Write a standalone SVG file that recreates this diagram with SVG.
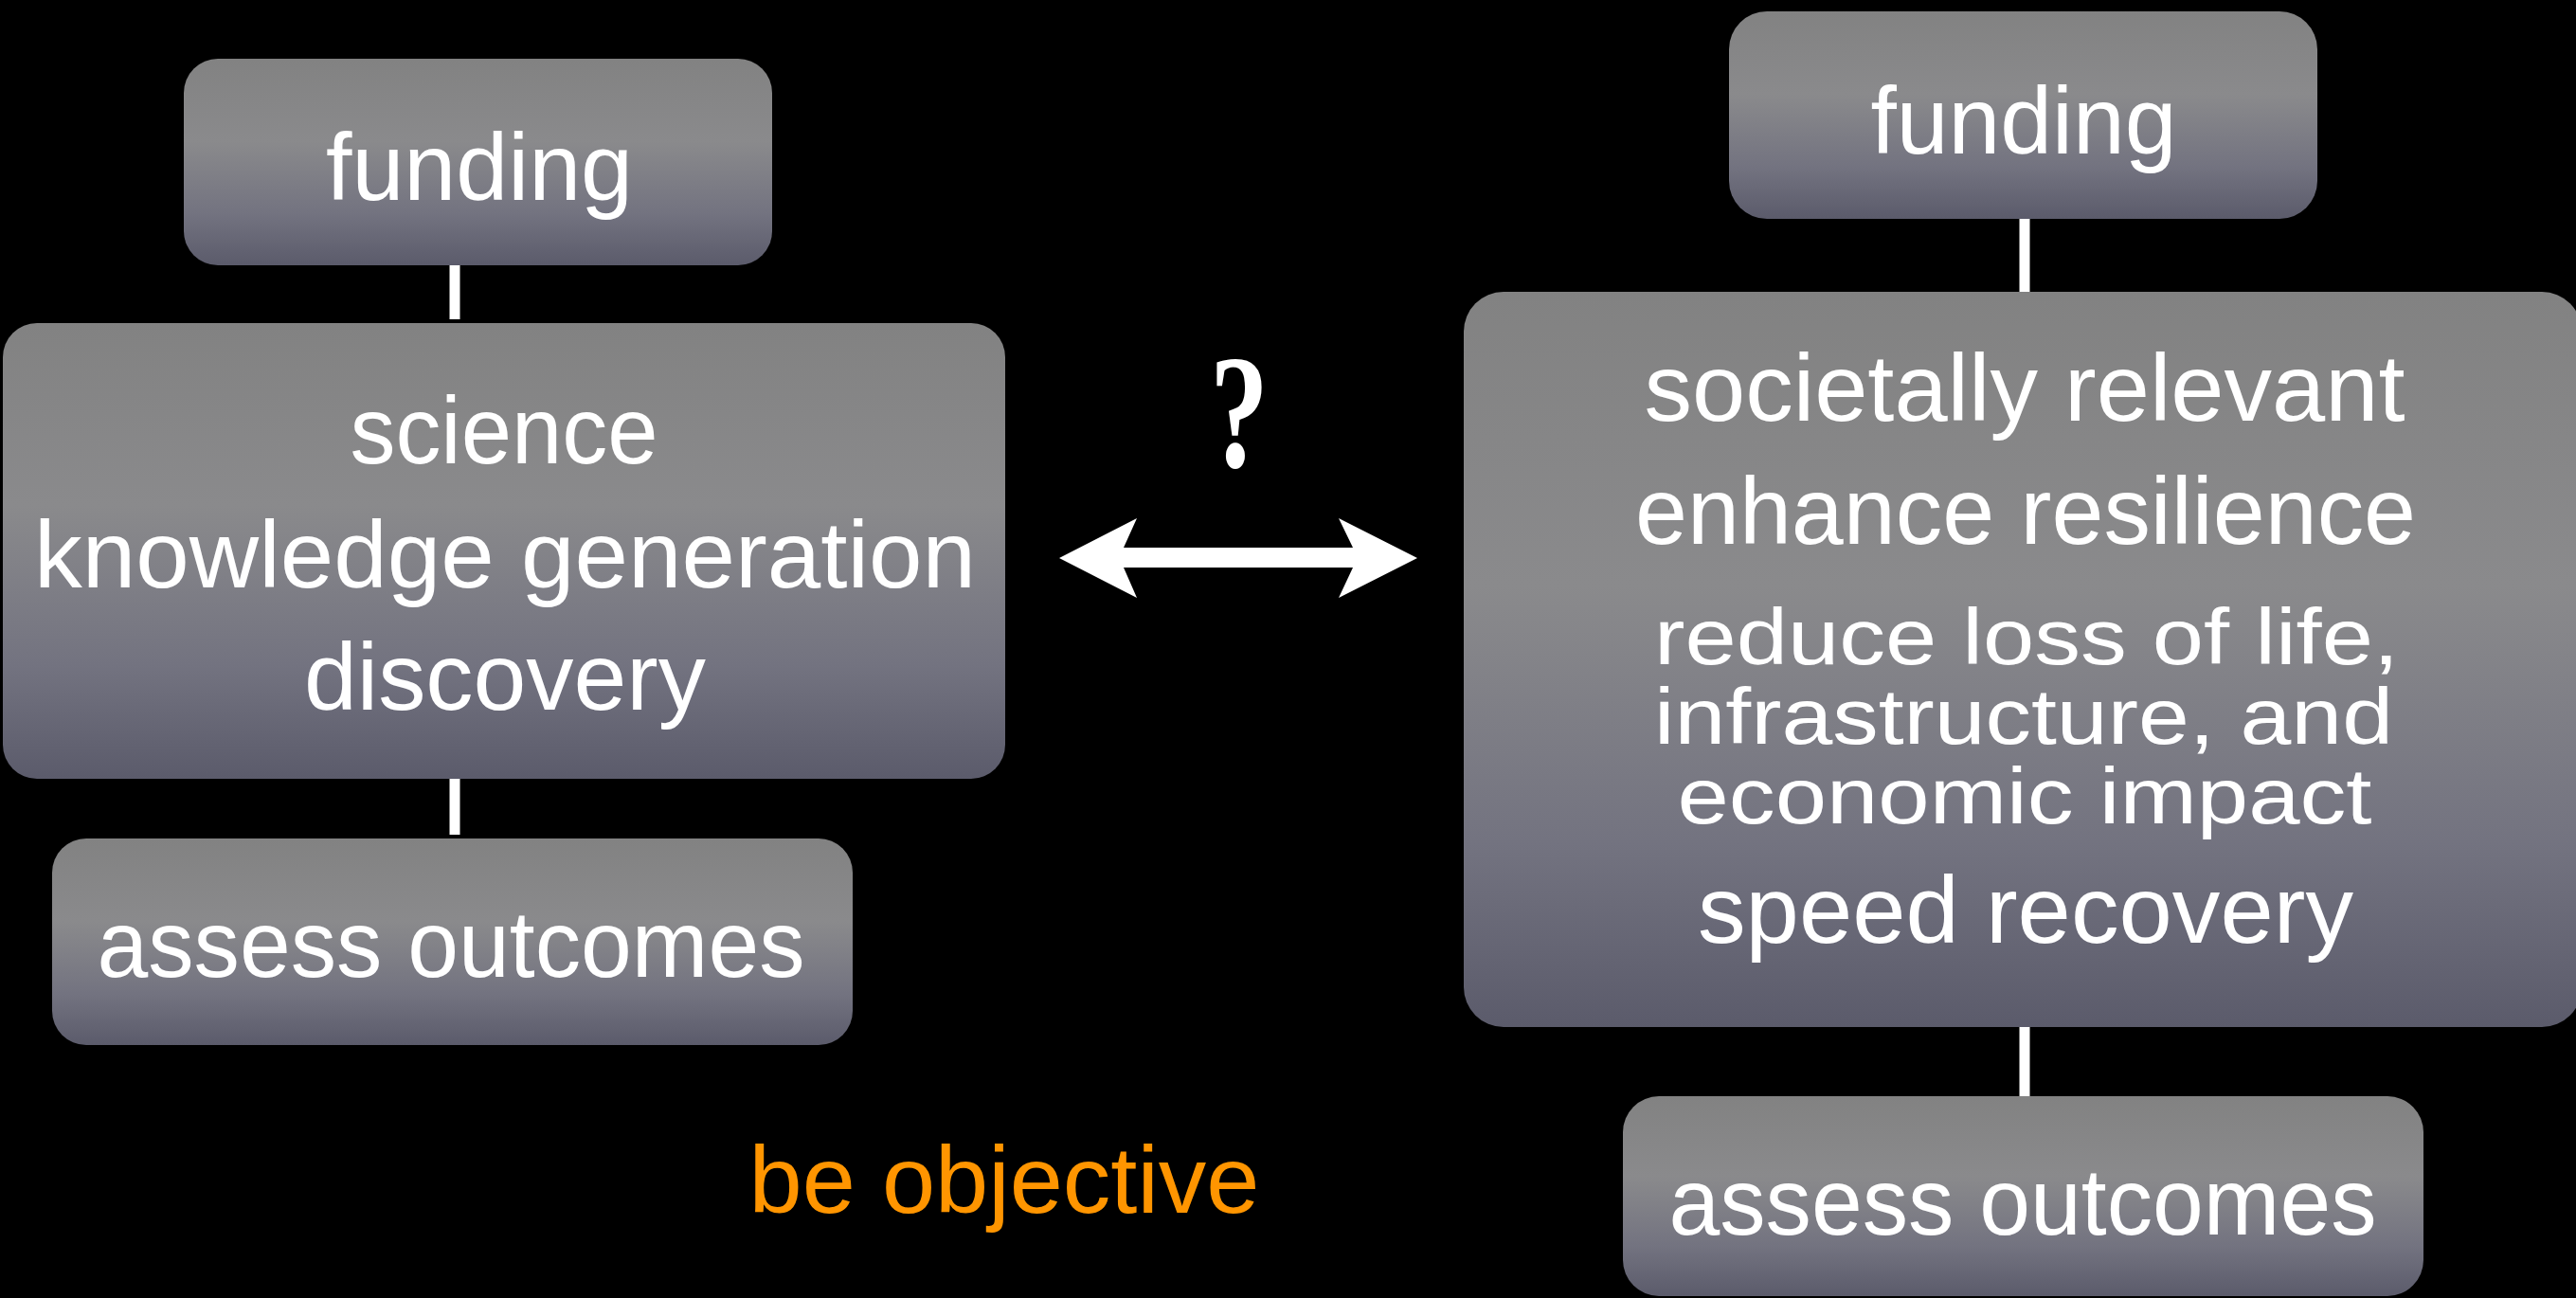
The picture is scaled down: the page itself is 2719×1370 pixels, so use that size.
<svg xmlns="http://www.w3.org/2000/svg" width="2719" height="1370" viewBox="0 0 2719 1370">
<defs>
<linearGradient id="boxg" x1="0" y1="0" x2="0" y2="1">
<stop offset="0" stop-color="#828282"/>
<stop offset="0.4" stop-color="#8a8a8c"/>
<stop offset="0.75" stop-color="#737380"/>
<stop offset="1" stop-color="#5b5b6b"/>
</linearGradient>
<style>
.box{fill:url(#boxg);}
.t{font-family:"Liberation Sans",Arial,sans-serif;fill:#ffffff;text-anchor:middle;}
.conn{stroke:#ffffff;stroke-width:11;fill:none;}
</style>
</defs>
<rect x="0" y="0" width="2719" height="1370" fill="#000000"/>

<g id="connectors">
<line class="conn" x1="480" y1="280" x2="480" y2="337"/>
<line class="conn" x1="480" y1="822" x2="480" y2="881"/>
<line class="conn" x1="2137" y1="231" x2="2137" y2="309"/>
<line class="conn" x1="2137" y1="1084" x2="2137" y2="1158"/>
<polygon id="double-arrow" fill="#ffffff" points="1118,589 1200,547 1186,578 1428,578 1413,547 1496,589 1413,631 1428,599 1186,599 1200,631"/>
</g>

<g id="left-funding">
<rect class="box" x="194" y="62" width="621" height="218" rx="36"/>
<text class="t" x="506" y="211" font-size="100" textLength="324" lengthAdjust="spacingAndGlyphs">funding</text>
</g>

<g id="left-science">
<rect class="box" x="3" y="341" width="1058" height="481" rx="36"/>
<text class="t" x="532" y="489" font-size="100" textLength="325" lengthAdjust="spacingAndGlyphs">science</text>
<text class="t" x="533" y="620" font-size="100" textLength="994" lengthAdjust="spacingAndGlyphs">knowledge generation</text>
<text class="t" x="533" y="749" font-size="100" textLength="424" lengthAdjust="spacingAndGlyphs">discovery</text>
</g>

<g id="left-assess">
<rect class="box" x="55" y="885" width="845" height="218" rx="36"/>
<text class="t" x="476" y="1031" font-size="100" textLength="747" lengthAdjust="spacingAndGlyphs">assess outcomes</text>
</g>

<g id="question">
<text class="t" font-size="172" font-weight="bold" transform="translate(1308,493) scale(0.72,1)" x="0" y="0" style="font-family:'Liberation Serif',serif">?</text>
</g>

<g id="be-objective">
<text x="1060" y="1280" font-size="100" textLength="539" lengthAdjust="spacingAndGlyphs" style="font-family:'Liberation Sans',Arial,sans-serif;fill:#ff9500;text-anchor:middle">be objective</text>
</g>

<g id="right-funding">
<rect class="box" x="1825" y="12" width="621" height="219" rx="40"/>
<text class="t" x="2136" y="162" font-size="100" textLength="323" lengthAdjust="spacingAndGlyphs">funding</text>
</g>

<g id="right-societal">
<rect class="box" x="1545" y="308" width="1180" height="776" rx="42"/>
<text class="t" x="2137" y="444" font-size="100" textLength="803" lengthAdjust="spacingAndGlyphs">societally relevant</text>
<text class="t" x="2138" y="574" font-size="100" textLength="824" lengthAdjust="spacingAndGlyphs">enhance resilience</text>
<text class="t" x="2139" y="701" font-size="84" textLength="786" lengthAdjust="spacingAndGlyphs">reduce loss of life,</text>
<text class="t" x="2136" y="785" font-size="84" textLength="780" lengthAdjust="spacingAndGlyphs">infrastructure, and</text>
<text class="t" x="2137" y="869" font-size="84" textLength="733" lengthAdjust="spacingAndGlyphs">economic impact</text>
<text class="t" x="2138" y="995" font-size="100" textLength="692" lengthAdjust="spacingAndGlyphs">speed recovery</text>
</g>

<g id="right-assess">
<rect class="box" x="1713" y="1157" width="845" height="211" rx="38"/>
<text class="t" x="2135" y="1303" font-size="100" textLength="747" lengthAdjust="spacingAndGlyphs">assess outcomes</text>
</g>
</svg>
